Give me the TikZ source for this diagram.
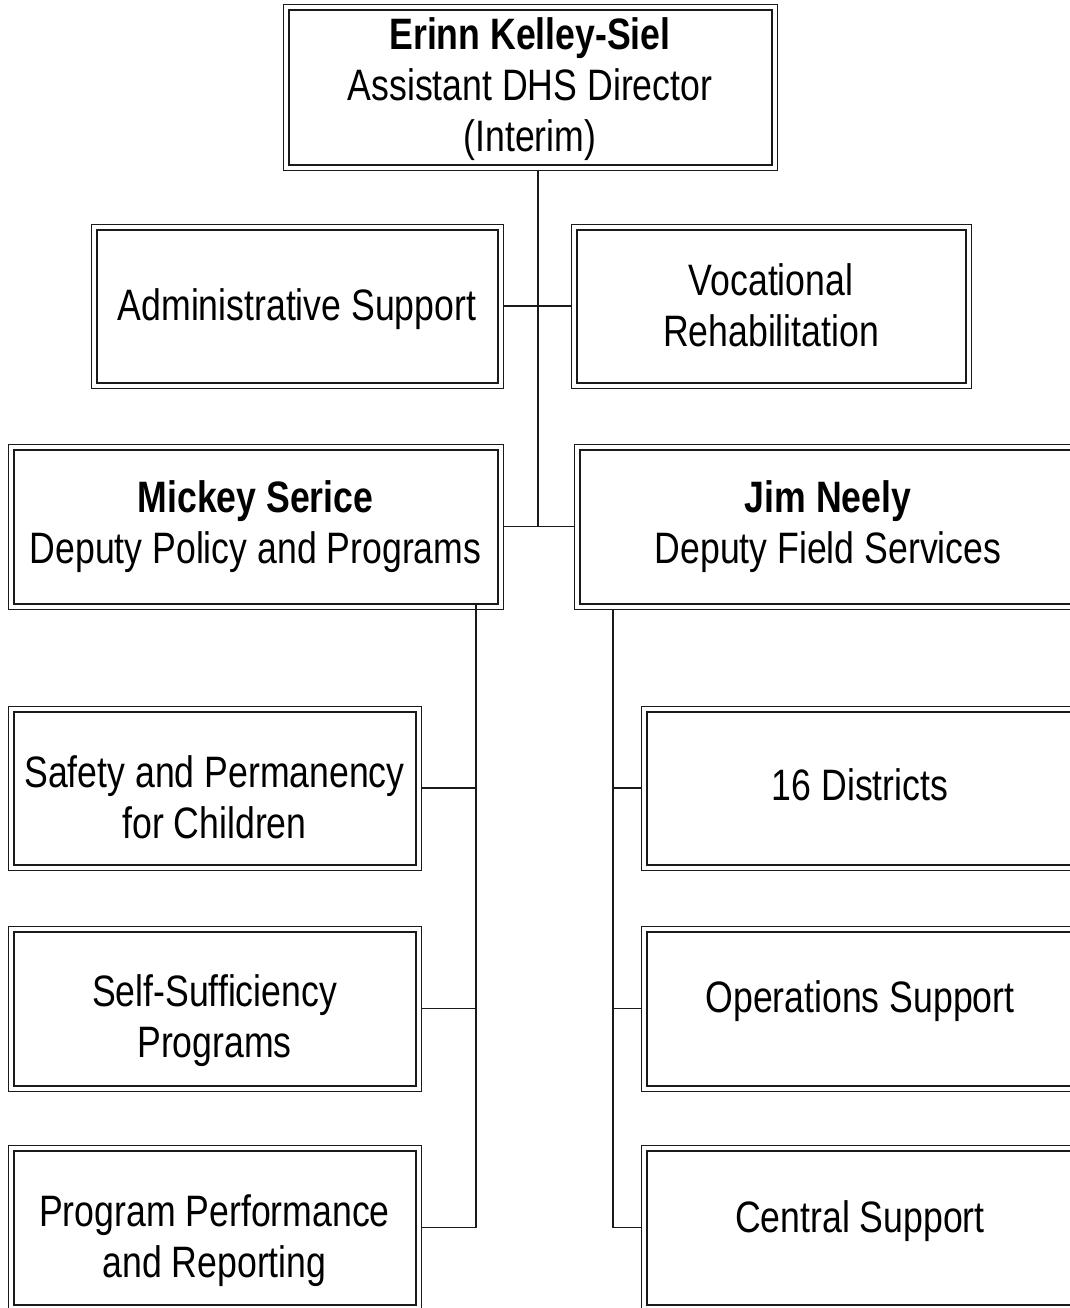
\documentclass[tikz,border=0pt]{standalone}
\usepackage{fontspec}
\setmainfont{Liberation Sans}[FakeStretch=0.81]
\usepackage{tikz}
\usetikzlibrary{calc}
\definecolor{ink}{HTML}{1A1A1A}
\tikzset{
  unit/.style={rectangle, draw=ink, fill=white, line width=1pt, inner sep=0pt,
    outer sep=2.75pt,
    preaction={draw=ink, line width=6pt},
    preaction={draw=white, line width=5pt}},
  wide/.style={unit, minimum width=242pt, minimum height=77pt},
  side/.style={unit, minimum width=201pt, minimum height=76.5pt},
  lbl/.style={align=center, text=black, font=\fontsize{22pt}{25.5pt}\selectfont},
  link/.style={draw=ink, line width=0.8pt}
}

\begin{document}
\begin{tikzpicture}[x=0.5pt, y=-0.5pt]
  \useasboundingbox (0,0) rectangle (1070,1308);
  \clip (0,0) rectangle (1070,1308);

  % top level
  \node[unit, minimum width=241.5pt, minimum height=77.5pt] (boss) at (530,87) {};
  \node[unit, minimum width=200.5pt, minimum height=76.5pt] (admin) at (297,306) {};
  \node[unit, minimum width=194.5pt, minimum height=76.5pt] (voc) at (771,306) {};

  % deputies
  \node[wide] (mickey) at (255.5,526.5) {};
  \node[wide, minimum width=248.5pt] (jim) at (828,526.5) {};

  % policy and programs
  \node[side] (safety) at (214.5,788) {};
  \node[side, minimum height=77pt] (selfsuf) at (214.5,1008.5) {};
  \node[side, minimum height=77pt] (perf) at (214.5,1227.5) {};

  % field services
  \node[side, minimum width=213.5pt] (dist) at (860,788) {};
  \node[side, minimum width=213.5pt, minimum height=77pt] (ops) at (860,1008.5) {};
  \node[side, minimum width=213.5pt, minimum height=77pt] (central) at (860,1227.5) {};

  % texts
  \node[lbl] (boss-t) at ($(boss)+(0,2)$) {\textbf{Erinn Kelley-Siel}\\Assistant DHS Director\\(Interim)};
  \node[lbl] (admin-t) at ($(admin)+(0,3)$) {Administrative Support};
  \node[lbl] (voc-t) at ($(voc)+(0,-1)$) {Vocational\\Rehabilitation};
  \node[lbl] (mickey-t) at ($(mickey)+(0,0)$) {\textbf{Mickey Serice}\\Deputy Policy and Programs};
  \node[lbl] (jim-t) at ($(jim)+(0,0)$) {\textbf{Jim Neely}\\Deputy Field Services};
  \node[lbl] (safety-t) at ($(safety)+(0,9)$) {Safety and Permanency\\for Children};
  \node[lbl] (selfsuf-t) at ($(selfsuf)+(0,12)$) {Self-Sufficiency\\Programs};
  \node[lbl] (perf-t) at ($(perf)+(0,13)$) {Program Performance\\and Reporting};
  \node[lbl] (dist-t) at ($(dist)+(0,-3)$) {16 Districts};
  \node[lbl] (ops-t) at ($(ops)+(0,-7)$) {Operations Support};
  \node[lbl] (central-t) at ($(central)+(0,-6)$) {Central Support};

  % connectors
  \coordinate (spine) at (538,526.5);
  \coordinate (ltrunk) at (476,1227.5);
  \coordinate (rtrunk) at (613,1227.5);

  \draw[link] (boss.south -| spine) -- (spine);
  \draw[link] (admin.east) -- (voc.west);
  \draw[link] (mickey.east) -- (jim.west);

  \draw[link] ([yshift=2.75pt]mickey.south -| ltrunk) -- (ltrunk) -- (perf.east);
  \draw[link] (safety.east) -- (safety.east -| ltrunk);
  \draw[link] (selfsuf.east) -- (selfsuf.east -| ltrunk);

  \draw[link] (jim.south -| rtrunk) -- (rtrunk) -- (central.west);
  \draw[link] (dist.west) -- (dist.west -| rtrunk);
  \draw[link] (ops.west) -- (ops.west -| rtrunk);
\end{tikzpicture}
\end{document}
